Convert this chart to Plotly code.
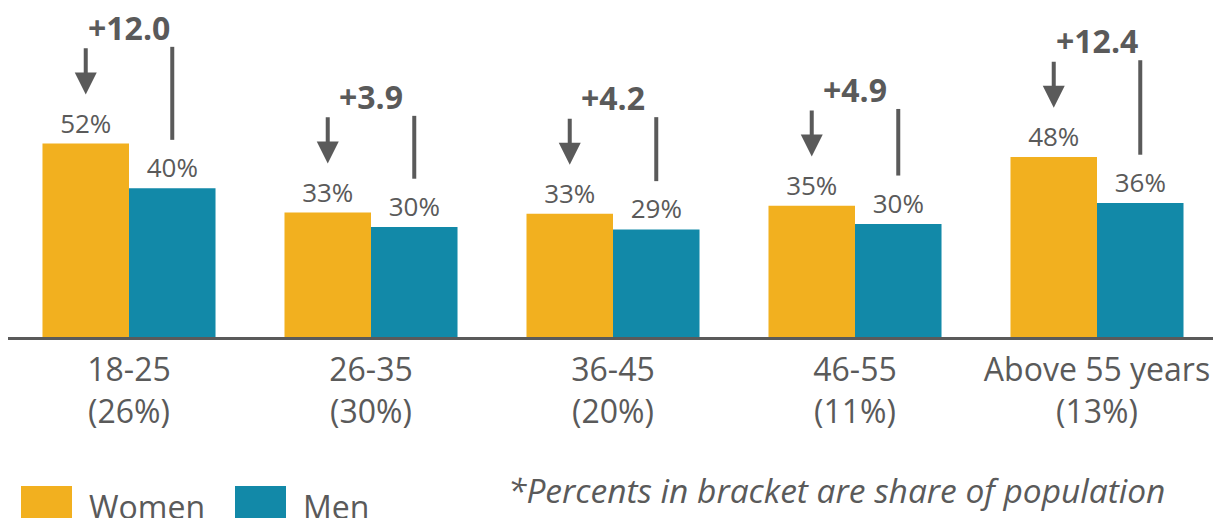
"""Women vs men share by age group, with gap brackets."""

import plotly.graph_objects as go

AGE_GROUPS = ["18-25", "26-35", "36-45", "46-55", "Above 55 years"]
POP_SHARE = ["26%", "30%", "20%", "11%", "13%"]
WOMEN = [52.0, 33.45, 33.1, 35.3, 48.4]
MEN = [40.0, 29.55, 28.9, 30.4, 36.0]

WOMEN_COLOR = "#F2B01F"
MEN_COLOR = "#1289A8"
GRAY = "#5A5A5A"
FONT = "Open Sans"

# page is 1221x518 but the html body adds an 8px margin
PAGE_OFF = 8
W, H = 1221 - PAGE_OFF, 518 - PAGE_OFF
L, R, T = 0, 3, 0
BASE_Y = 337  # page pixel of the x axis
B = H - (BASE_Y - PAGE_OFF)
BARGAP = 0.285
BAR_W = (1 - BARGAP) / 2


def px_x(p):
    return (p - PAGE_OFF - L) / (W - L - R)


def px_y(p):
    return (H - B - (p - PAGE_OFF)) / (H - T - B)


x = list(range(len(AGE_GROUPS)))
ticktext = [f"{a}<br>({s})" for a, s in zip(AGE_GROUPS, POP_SHARE)]

fig = go.Figure()
for name, vals, color in [("Women", WOMEN, WOMEN_COLOR), ("Men", MEN, MEN_COLOR)]:
    fig.add_bar(
        x=x, y=vals, name=name, marker_color=color, marker_line_width=0,
        text=[f"{v:.0f}%" for v in vals], textposition="outside",
        textfont=dict(size=26, color=GRAY, family=FONT), cliponaxis=False,
        showlegend=False,
    )

for i, (w, m) in enumerate(zip(WOMEN, MEN)):
    xw, xm = i - BAR_W / 2, i + BAR_W / 2
    fig.add_annotation(
        x=xw, y=w + 13.2, ax=xw, ay=w + 26, xref="x", yref="y", axref="x", ayref="y",
        text="", showarrow=True, arrowhead=2, arrowwidth=4, arrowsize=1.1, arrowcolor=GRAY,
    )
    fig.add_shape(type="line", x0=xm, x1=xm, y0=m + 13, y1=w + 26,
                  xref="x", yref="y", line=dict(color=GRAY, width=4))
    fig.add_annotation(
        x=i, y=w + 31.3, xref="x", yref="y", text=f"<b>+{w - m:.1f}</b>", showarrow=False,
        font=dict(size=32, color=GRAY, family=FONT),
    )

# legend drawn by hand so the swatches can be large
for label, color, x0, tx in [("Women", WOMEN_COLOR, 21, 87), ("Men", MEN_COLOR, 235, 301)]:
    fig.add_shape(type="rect", xref="paper", yref="paper", x0=px_x(x0), x1=px_x(x0 + 51),
                  y0=px_y(486), y1=px_y(520), fillcolor=color, line_width=0)
    fig.add_annotation(xref="paper", yref="paper", x=px_x(tx), y=px_y(506), text=label,
                       xanchor="left", yanchor="middle", showarrow=False,
                       font=dict(size=32, color=GRAY, family=FONT))

fig.add_annotation(
    xref="paper", yref="paper", x=px_x(506), y=px_y(490), xanchor="left", yanchor="middle",
    text="<i>*Percents in bracket are share of population</i>", showarrow=False,
    font=dict(size=33.5, color=GRAY, family=FONT),
)

fig.update_layout(
    width=W, height=H, margin=dict(l=L, r=R, t=T, b=B),
    plot_bgcolor="white", paper_bgcolor="white",
    barmode="group", bargap=BARGAP, bargroupgap=0,
    font=dict(family=FONT, color=GRAY),
)
fig.update_xaxes(
    range=[-0.5, len(AGE_GROUPS) - 0.5], tickvals=x, ticktext=ticktext,
    tickfont=dict(size=32, color=GRAY, family=FONT), ticks="", ticklabelstandoff=3,
    showline=True, linewidth=3, linecolor=GRAY, showgrid=False, zeroline=False,
    automargin=False,
)
fig.update_yaxes(range=[0, (H - T - B) / 3.72], visible=False, showgrid=False)

fig.write_html("out.html")
